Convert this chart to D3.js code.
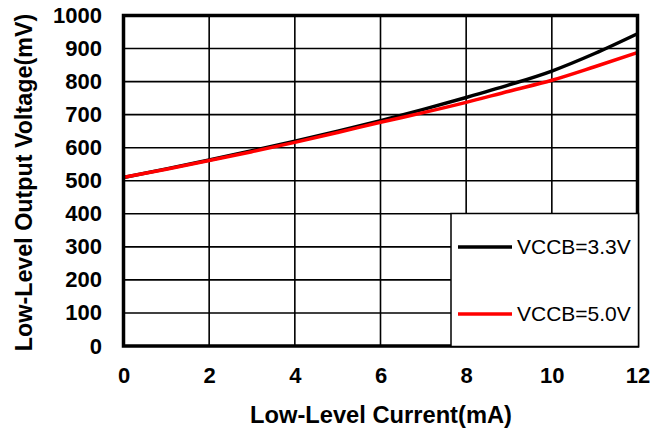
<!DOCTYPE html>
<html><head><meta charset="utf-8">
<script src="https://cdn.jsdelivr.net/npm/d3@7"></script>
<style>body{margin:0;background:#fff}svg{display:block}</style>
</head><body><svg id="c" width="666" height="436"></svg>
<script>
const currents = [0,1,2,3,4,5,6,7,8,9,10,11,12];
const vccb33 = [510,536,563,591,620,650,682,716,752,790,832,885,945];
const vccb50 = [510,535,561,588,616,646,677,706,737,771,804,845,888];
const xTicks = [0,2,4,6,8,10,12];
const yTicks = [0,100,200,300,400,500,600,700,800,900,1000];
const seriesNames = ["VCCB=3.3V","VCCB=5.0V"];
const seriesColors = ["#000000","#ff0000"];

const svg = d3.select("#c");
const L=123.5, R=637.5, T=15.5, B=346;
const x = d3.scaleLinear().domain([0,12]).range([L,R]);
const y = d3.scaleLinear().domain([0,1000]).range([B,T]);
const font = "Arial, 'Liberation Sans', sans-serif";

// grid
svg.append("g").selectAll("line").data(xTicks.slice(1,-1)).join("line")
  .attr("x1",d=>x(d)).attr("x2",d=>x(d)).attr("y1",T).attr("y2",B)
  .attr("stroke","#000").attr("stroke-width",1.6);
svg.append("g").selectAll("line").data(yTicks.slice(1,-1)).join("line")
  .attr("x1",L).attr("x2",R).attr("y1",d=>y(d)).attr("y2",d=>y(d))
  .attr("stroke","#000").attr("stroke-width",1.6);

// axes labels via d3 axes
const xAxis = svg.append("g").attr("transform",`translate(0,${B})`)
  .call(d3.axisBottom(x).tickValues(xTicks).tickFormat(d3.format("d")).tickSize(0).tickPadding(21));
xAxis.select(".domain").remove();
xAxis.selectAll("text").attr("font-family",font).attr("font-weight","bold").attr("font-size",22).attr("fill","#000");
const yAxis = svg.append("g").attr("transform",`translate(${L},0)`)
  .call(d3.axisLeft(y).tickValues(yTicks).tickFormat(d3.format("d")).tickSize(0).tickPadding(21.5));
yAxis.select(".domain").remove();
yAxis.selectAll("text").attr("font-family",font).attr("font-weight","bold").attr("font-size",22).attr("fill","#000");

// lines
const data = [vccb33, vccb50];
const line = d3.line().x((d,i)=>x(currents[i])).y(d=>y(d)).curve(d3.curveMonotoneX);
svg.append("g").selectAll("path").data(data).join("path")
  .attr("d",line).attr("fill","none")
  .attr("stroke",(d,i)=>seriesColors[i]).attr("stroke-width",3.5);

// border
svg.append("rect").attr("x",L).attr("y",T).attr("width",R-L).attr("height",B-T)
  .attr("fill","none").attr("stroke","#000").attr("stroke-width",3.5);

// legend
const lg = svg.append("g");
lg.append("rect").attr("x",451).attr("y",213.5).attr("width",187.5).attr("height",133)
  .attr("fill","#fff").attr("stroke","#000").attr("stroke-width",1.5);
seriesNames.forEach((n,i)=>{
  const ly = 247 + i*67;
  lg.append("line").attr("x1",458).attr("x2",512).attr("y1",ly).attr("y2",ly)
    .attr("stroke",seriesColors[i]).attr("stroke-width",3.5);
  lg.append("text").attr("x",517).attr("y",ly+7).attr("font-family",font)
    .attr("font-size",21).attr("fill","#000").text(n);
});

// titles
svg.append("text").attr("x",381).attr("y",423).attr("text-anchor","middle")
  .attr("font-family",font).attr("font-weight","bold").attr("font-size",23.7).text("Low-Level Current(mA)");
svg.append("text").attr("transform","translate(31.5,182.5) rotate(-90)").attr("text-anchor","middle")
  .attr("font-family",font).attr("font-weight","bold").attr("font-size",23.3).text("Low-Level Output Voltage(mV)");
</script></body></html>
